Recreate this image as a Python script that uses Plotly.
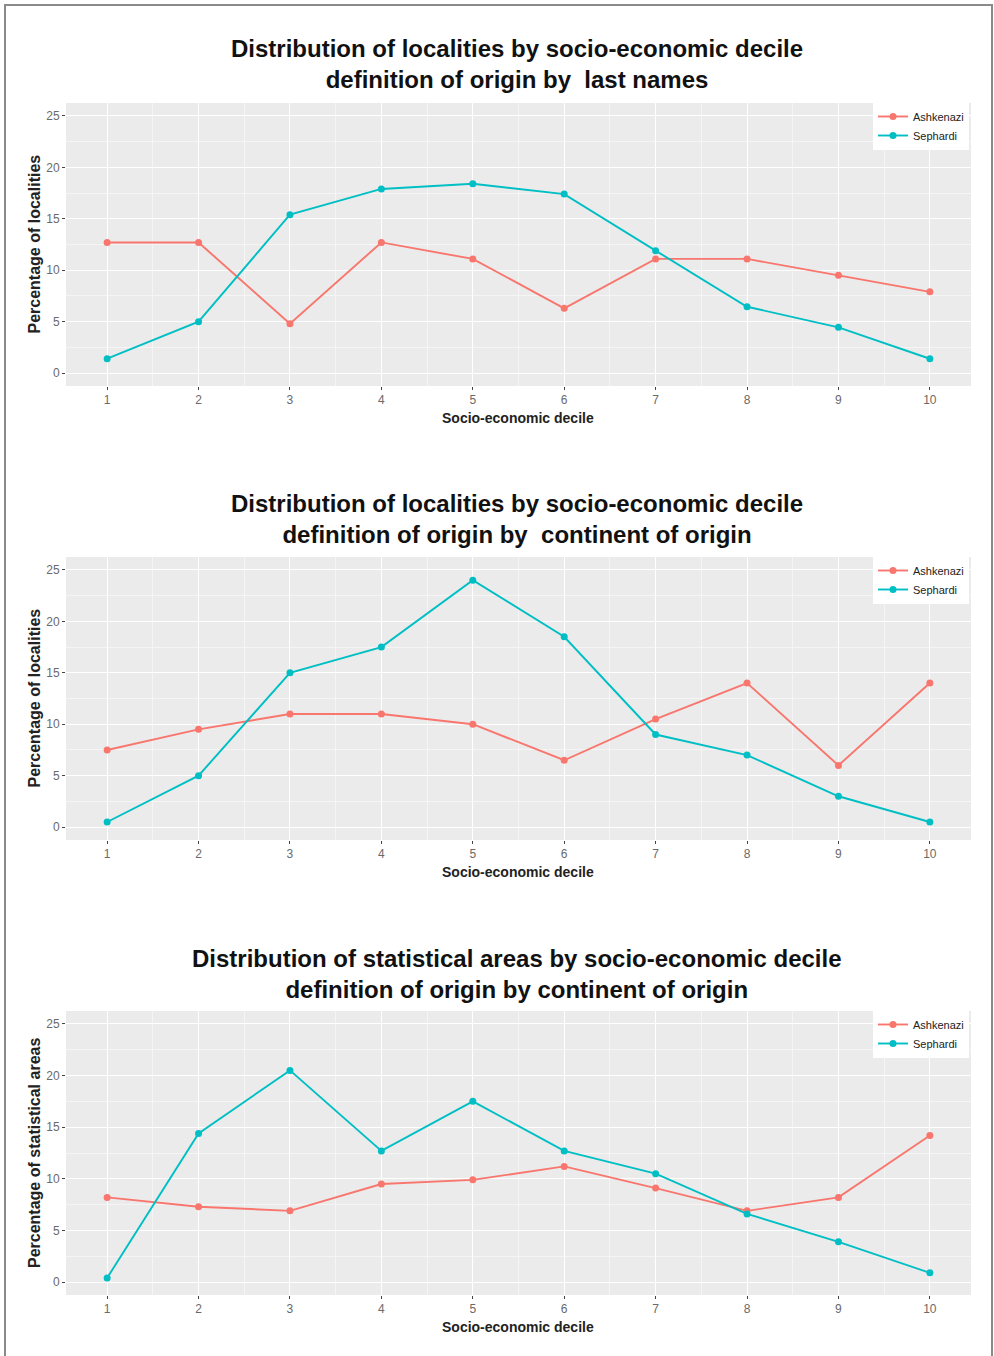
import plotly.graph_objects as go

W, H = 994, 1356

deciles = [1, 2, 3, 4, 5, 6, 7, 8, 9, 10]

# Panel 1: localities, origin by last names
p1_ashkenazi = [12.7, 12.7, 4.8, 12.7, 11.1, 6.3, 11.1, 11.1, 9.5, 7.9]
p1_sephardi = [1.4, 5.0, 15.4, 17.9, 18.4, 17.4, 11.9, 6.45, 4.45, 1.4]

# Panel 2: localities, origin by continent of origin
p2_ashkenazi = [7.5, 9.5, 11.0, 11.0, 10.0, 6.5, 10.5, 14.0, 6.0, 14.0]
p2_sephardi = [0.5, 5.0, 15.0, 17.5, 24.0, 18.5, 9.0, 7.0, 3.0, 0.5]

# Panel 3: statistical areas, origin by continent of origin
p3_ashkenazi = [8.2, 7.3, 6.9, 9.5, 9.9, 11.2, 9.1, 6.9, 8.2, 14.2]
p3_sephardi = [0.4, 14.4, 20.5, 12.7, 17.5, 12.7, 10.5, 6.6, 3.9, 0.9]

titles = [
    "Distribution of localities by socio-economic decile<br>definition of origin by \u00a0last names",
    "Distribution of localities by socio-economic decile<br>definition of origin by \u00a0continent of origin",
    "Distribution of statistical areas by socio-economic decile<br>definition of origin by continent of origin",
]
y_titles = ["Percentage of localities", "Percentage of localities", "Percentage of statistical areas"]
x_title = "Socio-economic decile"
y_ticks = [0, 5, 10, 15, 20, 25]

ASH = "#F8766D"
SEP = "#00BFC4"
FONT = "Liberation Sans, Arial, sans-serif"

# pixel layout of each panel: (top, bottom) of the grey plotting area
panels = [(103, 386), (557, 840), (1011, 1295)]
title_y = [48, 503, 958]
x_left, x_right = 66, 971

def px(x):
    return x / W

def py(y):
    return 1 - y / H

series = [(p1_ashkenazi, p1_sephardi), (p2_ashkenazi, p2_sephardi), (p3_ashkenazi, p3_sephardi)]

fig = go.Figure()
annotations = []
layout = {}

for i, ((ash, sep), (top, bot)) in enumerate(zip(series, panels)):
    n = "" if i == 0 else str(i + 1)
    leg = "legend" if i == 0 else f"legend{i + 1}"
    for name, vals, col in (("Ashkenazi", ash, ASH), ("Sephardi", sep, SEP)):
        fig.add_trace(go.Scatter(
            x=deciles, y=vals, name=name, mode="lines+markers",
            line=dict(color=col, width=1.9),
            marker=dict(color=col, size=7),
            xaxis="x" + n, yaxis="y" + n, legend=leg,
        ))

    layout["xaxis" + n] = dict(
        domain=[px(x_left), px(x_right)], anchor="y" + n,
        range=[0.55, 10.45], tickvals=deciles, ticktext=[str(d) for d in deciles],
        showgrid=True, gridcolor="white", gridwidth=1.2,
        minor=dict(tick0=0.5, dtick=1, showgrid=True, gridcolor="#F5F5F5", gridwidth=0.6, ticks=""),
        zeroline=False, showline=False,
        ticks="outside", ticklen=3, tickwidth=1, tickcolor="#444",
        tickfont=dict(family=FONT, size=12, color="#6a6a6a"),
    )
    layout["yaxis" + n] = dict(
        domain=[py(bot), py(top)], anchor="x" + n,
        range=[-1.25, 26.25], tickvals=y_ticks,
        showgrid=True, gridcolor="white", gridwidth=1.2,
        minor=dict(tick0=2.5, dtick=5, showgrid=True, gridcolor="#F5F5F5", gridwidth=0.6, ticks=""),
        zeroline=False, showline=False,
        ticks="outside", ticklen=3, tickwidth=1, tickcolor="#444",
        tickfont=dict(family=FONT, size=12, color="#6a6a6a"),
    )
    layout[leg] = dict(
        x=px(873), y=py(top - 1), xanchor="left", yanchor="top",
        bgcolor="white", borderwidth=0,
        font=dict(family=FONT, size=11, color="#222"),
        itemwidth=30, tracegroupgap=0,
    )

    annotations.append(dict(
        text="<b>" + titles[i] + "</b>", x=px(517), y=py(title_y[i] - 15),
        xref="paper", yref="paper", xanchor="center", yanchor="top",
        showarrow=False, align="center",
        font=dict(family=FONT, size=24, color="#111"),
    ))
    annotations.append(dict(
        text="<b>" + x_title + "</b>", x=px(518), y=py(bot + 32),
        xref="paper", yref="paper", xanchor="center", yanchor="middle",
        showarrow=False, font=dict(family=FONT, size=14, color="#222"),
    ))
    annotations.append(dict(
        text="<b>" + y_titles[i] + "</b>", x=px(34), y=py((top + bot) / 2),
        xref="paper", yref="paper", xanchor="center", yanchor="middle",
        textangle=-90, showarrow=False, font=dict(family=FONT, size=16, color="#222"),
    ))

fig.update_layout(
    width=W, height=H,
    margin=dict(l=0, r=0, t=0, b=0),
    paper_bgcolor="white", plot_bgcolor="#EBEBEB",
    showlegend=True,
    annotations=annotations,
    shapes=[dict(type="rect", xref="paper", yref="paper",
                 x0=px(5), x1=px(992), y0=-0.01, y1=py(5),
                 line=dict(color="#8a8a8a", width=2), fillcolor="rgba(0,0,0,0)",
                 layer="above")],
    **layout,
)

fig.write_html("out.html")
